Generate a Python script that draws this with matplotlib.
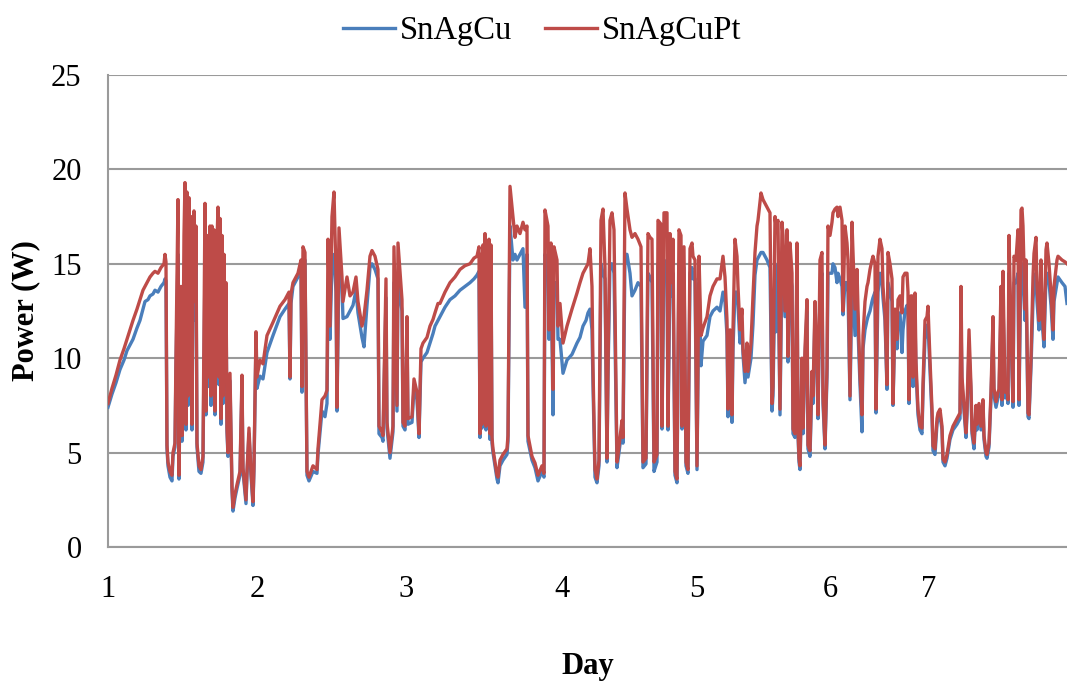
import matplotlib
matplotlib.use("Agg")
import matplotlib.pyplot as plt
import numpy as np

# Readings grouped by stretch of the logging run:
# (measurement index, SnAgCuPt power W, SnAgCu power W)
day1_morning = [
    (0, 7.6, 7.4), (4, 8.4, 8.1), (8, 9.1, 8.7), (12, 9.9, 9.4), (16, 10.5, 9.9),
    (19, 11.0, 10.4), (22, 11.5, 10.7), (25, 12.0, 11.0), (29, 12.6, 11.6),
    (32, 13.1, 12.0), (35, 13.6, 12.6), (37, 13.8, 13.0), (40, 14.1, 13.1),
    (42, 14.3, 13.3), (45, 14.5, 13.4), (47, 14.6, 13.6), (50, 14.5, 13.5),
    (53, 14.8, 13.8), (56, 15.0, 14.0), (57, 15.5, 14.2), (58, 15.1, 14.1),
]

day1_afternoon = [
    (59, 5.4, 5.2), (60, 4.5, 4.3), (62, 4.0, 3.7), (64, 3.8, 3.5), (65, 5.0, 4.8),
    (67, 5.5, 5.3), (68, 10.1, 9.5), (70, 18.4, 15.5), (71, 3.8, 3.6),
    (73, 13.8, 12.5), (74, 5.9, 5.6), (75, 9.4, 9.0), (76, 16.5, 14.0),
    (77, 19.3, 16.0), (78, 6.5, 6.2), (79, 18.8, 15.0), (80, 8.0, 7.5),
    (81, 18.5, 15.4), (82, 9.0, 8.5), (83, 17.5, 15.4), (84, 6.5, 6.2),
    (85, 16.0, 14.5), (86, 17.8, 14.0), (87, 13.0, 12.0), (88, 17.0, 15.0),
    (89, 5.5, 5.3), (91, 4.3, 4.0), (93, 4.1, 3.9), (95, 4.8, 4.5),
    (97, 18.2, 15.0), (98, 7.2, 7.0), (100, 16.5, 15.0), (101, 9.0, 8.5),
    (102, 17.0, 11.7), (103, 8.0, 7.5), (104, 17.0, 15.0), (105, 10.0, 9.3),
    (106, 16.8, 14.0), (107, 7.2, 7.0), (109, 16.1, 14.5), (110, 18.0, 15.5),
    (111, 9.0, 8.6), (112, 17.4, 15.0), (113, 6.8, 6.5), (114, 16.5, 15.0),
    (115, 8.0, 7.6), (116, 15.5, 14.0), (117, 9.8, 9.4), (118, 14.0, 13.0),
    (119, 6.3, 6.1), (120, 5.0, 4.8), (122, 9.2, 8.8), (124, 3.2, 3.0),
    (125, 2.1, 1.9), (127, 2.8, 2.6), (129, 3.3, 3.1), (132, 4.0, 3.8),
    (134, 9.1, 8.6), (135, 4.2, 4.0), (138, 2.5, 2.3), (139, 4.0, 3.8),
    (141, 6.3, 6.0), (143, 4.0, 3.8), (145, 2.4, 2.2), (146, 4.3, 4.1),
    (148, 11.4, 11.0), (149, 9.0, 8.4),
]

day2 = [
    (152, 9.9, 9.05), (155, 9.7, 8.9), (159, 11.2, 10.3), (165, 11.9, 11.2),
    (172, 12.75, 12.2), (177, 13.1, 12.6), (181, 13.5, 12.9), (182, 9.0, 8.9),
    (183, 13.4, 12.9), (185, 14.0, 13.8), (190, 14.5, 14.3), (193, 15.2, 14.9),
    (194, 8.5, 8.2), (195, 15.9, 15.0), (197, 15.6, 15.2), (199, 4.0, 3.8),
    (201, 3.7, 3.5), (205, 4.3, 4.0), (209, 4.1, 3.9), (210, 5.2, 4.9),
    (214, 7.8, 7.2), (217, 8.0, 6.9), (219, 8.3, 7.6), (220, 16.3, 13.0),
    (222, 11.7, 11.0), (224, 17.5, 15.0), (226, 18.8, 15.5), (228, 14.5, 13.5),
    (229, 7.4, 7.2), (231, 16.9, 15.0), (234, 14.3, 13.8), (235, 13.0, 12.1),
    (239, 14.3, 12.2), (242, 13.3, 12.5), (245, 13.5, 12.8), (248, 14.3, 13.6),
    (250, 13.0, 12.4), (254, 11.7, 11.1), (256, 12.2, 10.6), (259, 13.6, 12.8),
    (262, 15.4, 14.8), (264, 15.7, 15.0), (267, 15.4, 14.7), (270, 14.7, 14.2),
    (271, 6.4, 6.0), (274, 6.1, 5.8), (275, 5.9, 5.6), (278, 14.2, 13.2),
    (279, 6.6, 6.3), (282, 5.0, 4.7), (285, 6.4, 6.1), (286, 15.9, 14.0),
    (289, 7.5, 7.2), (290, 16.1, 14.0), (294, 13.1, 12.5), (295, 6.6, 6.4),
]

day3 = [
    (297, 6.4, 6.2), (299, 12.2, 11.4), (300, 6.8, 6.5), (304, 6.9, 6.6),
    (306, 8.9, 8.4), (309, 8.2, 7.8), (311, 6.0, 5.8), (313, 10.5, 9.8),
    (315, 10.8, 10.0), (319, 11.1, 10.3), (322, 11.7, 10.8), (325, 12.05, 11.3),
    (327, 12.4, 11.7), (330, 12.9, 12.0), (332, 12.9, 12.2), (337, 13.5, 12.7),
    (342, 14.0, 13.1), (347, 14.3, 13.3), (352, 14.7, 13.6), (357, 14.9, 13.8),
    (362, 15.0, 14.0), (366, 15.3, 14.2), (369, 15.4, 14.4), (371, 15.9, 14.6),
    (372, 6.0, 5.8), (373, 15.5, 10.0), (374, 6.5, 6.3), (375, 16.0, 14.5),
    (376, 7.0, 6.5), (377, 16.6, 15.0), (378, 6.4, 6.2), (379, 16.0, 15.0),
    (380, 7.5, 7.0), (381, 16.3, 15.2), (382, 6.0, 5.7), (383, 16.0, 15.0),
    (384, 5.8, 5.5), (385, 5.2, 5.0), (389, 3.8, 3.6), (390, 3.7, 3.4),
    (392, 4.6, 4.3), (395, 4.9, 4.6), (399, 5.2, 4.9), (400, 5.9, 5.6),
    (402, 19.1, 17.0), (405, 17.5, 15.2), (407, 16.4, 15.5), (409, 17.0, 15.2),
    (412, 16.6, 15.5), (415, 17.2, 15.8), (417, 16.8, 12.7), (419, 17.0, 15.5),
    (420, 5.9, 5.6), (424, 4.8, 4.6), (427, 4.45, 4.2), (430, 3.8, 3.5),
    (434, 4.3, 4.0), (436, 3.9, 3.7), (437, 17.85, 15.5), (440, 17.0, 15.0),
    (441, 11.5, 11.0), (443, 16.1, 15.0), (445, 8.35, 7.0), (446, 15.9, 14.0),
    (449, 15.2, 14.0), (450, 11.7, 11.0), (452, 12.9, 11.0),
]

day4 = [
    (455, 10.8, 9.2), (459, 11.7, 9.9), (464, 12.6, 10.2), (469, 13.45, 10.8),
    (472, 14.0, 11.1), (475, 14.5, 11.7), (478, 14.8, 12.0), (480, 15.0, 12.4),
    (482, 15.8, 12.6), (484, 13.8, 11.5), (485, 9.5, 8.6), (487, 4.1, 3.7),
    (489, 3.6, 3.4), (491, 4.6, 4.3), (493, 17.3, 15.0), (495, 17.9, 14.5),
    (497, 14.8, 14.2), (499, 4.7, 4.5), (500, 9.4, 9.0), (502, 17.3, 15.0),
    (504, 17.7, 15.0), (506, 16.8, 14.5), (509, 4.5, 4.2), (510, 4.9, 4.6),
    (514, 6.7, 6.25), (515, 5.8, 5.5), (517, 18.75, 15.5), (519, 17.9, 15.5),
    (522, 16.8, 14.5), (524, 16.4, 13.3), (527, 16.6, 13.6), (530, 16.3, 14.0),
    (533, 15.9, 13.8), (535, 4.5, 4.2), (538, 4.7, 4.4), (540, 16.6, 14.5),
    (542, 16.4, 14.3), (544, 16.3, 14.0), (546, 4.5, 4.0), (549, 4.9, 4.5),
    (550, 17.3, 15.0), (553, 17.1, 15.0), (554, 6.4, 6.25), (556, 17.7, 15.0),
    (559, 17.7, 15.2), (560, 6.4, 6.2), (562, 16.6, 14.5), (564, 14.0, 13.3),
    (565, 16.3, 14.5), (567, 4.0, 3.8), (569, 3.6, 3.4), (571, 16.8, 15.0),
    (573, 16.5, 14.8), (574, 6.4, 6.25), (576, 15.9, 14.8), (578, 4.5, 4.3),
    (580, 4.1, 3.9), (582, 15.8, 14.5), (584, 16.1, 14.8), (585, 15.4, 14.2),
    (587, 15.2, 14.2),
]

day5 = [
    (589, 4.3, 4.1), (591, 15.4, 14.0), (593, 11.2, 9.6), (595, 11.6, 10.9),
    (599, 12.2, 11.2), (602, 13.3, 12.2), (605, 13.8, 12.5), (609, 14.2, 12.7),
    (612, 14.2, 12.5), (615, 15.4, 13.5), (617, 14.3, 13.0), (619, 12.0, 11.2),
    (620, 7.3, 6.9), (622, 11.5, 10.5), (624, 7.0, 6.6), (625, 11.5, 10.5),
    (627, 16.3, 13.5), (629, 15.4, 13.5), (630, 13.8, 12.8), (632, 11.5, 10.8),
    (634, 12.6, 11.6), (635, 10.5, 10.2), (637, 9.3, 8.7), (639, 10.8, 9.9),
    (640, 9.3, 9.0), (643, 10.8, 10.0), (645, 13.3, 11.8), (647, 15.6, 14.4),
    (649, 17.0, 15.2), (650, 17.3, 15.3), (653, 18.75, 15.6), (655, 18.4, 15.6),
    (659, 18.0, 15.2), (662, 17.7, 14.8), (664, 7.6, 7.2), (665, 8.5, 8.0),
    (667, 17.5, 14.5), (668, 17.0, 11.4), (670, 17.3, 15.0), (672, 7.3, 7.0),
    (674, 17.2, 15.0), (675, 16.5, 14.5), (677, 12.5, 12.2), (679, 16.8, 14.8),
    (680, 10.1, 9.8), (682, 16.1, 14.5), (684, 14.5, 13.8), (685, 6.25, 6.0),
    (687, 6.0, 5.8), (689, 16.1, 14.5), (690, 6.25, 6.0), (691, 4.7, 4.5),
    (692, 4.3, 4.1), (694, 10.0, 9.5), (695, 6.3, 6.0), (697, 10.5, 10.0),
    (699, 13.1, 12.5), (700, 5.4, 5.2), (702, 5.1, 4.8), (704, 9.3, 8.8),
    (705, 8.0, 7.6), (707, 13.0, 12.4), (709, 9.8, 9.3), (710, 7.0, 6.8),
    (712, 15.2, 14.0), (714, 15.6, 14.5), (715, 8.0, 7.6), (717, 5.4, 5.2),
    (719, 9.5, 9.0), (720, 17.0, 14.5),
]

day6 = [
    (722, 16.5, 14.5), (724, 17.2, 14.5), (725, 17.7, 15.0), (727, 17.9, 14.8),
    (729, 18.0, 14.0), (730, 17.5, 14.5), (732, 18.0, 14.2), (734, 17.3, 13.8),
    (735, 12.5, 12.3), (737, 17.0, 14.0), (739, 16.1, 14.0), (740, 15.2, 13.5),
    (742, 8.0, 7.8), (744, 17.2, 14.0), (745, 15.6, 13.5), (747, 12.6, 11.2),
    (749, 14.7, 13.0), (750, 12.6, 11.5), (752, 9.1, 8.6), (754, 7.0, 6.1),
    (755, 11.2, 10.5), (757, 13.0, 11.5), (759, 13.8, 12.0), (760, 14.0, 12.2),
    (762, 14.7, 12.5), (764, 15.2, 13.0), (765, 15.4, 13.2), (767, 15.0, 13.5),
    (768, 7.3, 7.1), (770, 15.4, 13.5), (772, 16.3, 14.5), (774, 15.8, 14.0),
    (775, 13.8, 13.2), (777, 12.4, 12.0), (779, 8.6, 8.35), (780, 15.6, 14.0),
    (782, 15.0, 13.5), (784, 14.2, 13.0), (785, 7.6, 7.5), (787, 12.6, 12.0),
    (789, 11.0, 10.5), (790, 13.1, 12.3), (792, 13.3, 12.4), (794, 12.4, 10.3),
    (795, 14.3, 11.5), (797, 14.5, 12.5), (799, 14.5, 12.8), (800, 13.5, 12.6),
    (801, 7.8, 7.6), (803, 13.3, 12.5), (804, 13.3, 12.0), (805, 9.0, 8.5),
    (807, 13.45, 12.0), (808, 9.8, 9.3), (810, 7.3, 7.0), (812, 6.4, 6.2),
    (814, 6.3, 6.0), (815, 8.6, 8.2), (817, 12.0, 11.0), (819, 12.2, 11.5),
    (820, 12.75, 11.8),
]

day7 = [
    (822, 9.9, 9.4), (824, 7.3, 6.9), (825, 5.35, 5.1), (827, 5.2, 4.9),
    (829, 6.8, 6.5), (830, 7.1, 6.8), (832, 7.3, 7.0), (834, 6.4, 6.2),
    (835, 4.65, 4.5), (837, 4.5, 4.3), (839, 4.9, 4.7), (842, 5.9, 5.7),
    (845, 6.4, 6.2), (849, 6.8, 6.5), (852, 7.1, 6.8), (853, 13.8, 12.0),
    (854, 9.0, 8.6), (856, 7.5, 7.2), (858, 6.05, 5.8), (859, 7.3, 7.0),
    (861, 11.5, 10.5), (863, 8.5, 8.2), (864, 6.2, 6.0), (866, 5.5, 5.2),
    (868, 7.5, 7.2), (869, 6.5, 6.2), (871, 7.6, 7.3), (873, 6.4, 6.2),
    (875, 7.8, 7.5), (876, 5.9, 5.7), (878, 5.0, 4.8), (879, 4.9, 4.7),
    (881, 5.5, 5.3), (883, 8.2, 7.9), (885, 12.2, 11.5), (886, 8.4, 8.0),
    (888, 7.7, 7.4), (890, 8.2, 7.9), (891, 8.35, 8.0), (893, 13.8, 12.5),
    (894, 7.8, 7.5), (895, 14.6, 13.0), (897, 8.2, 7.9), (899, 8.35, 8.0),
    (900, 7.8, 7.6), (901, 16.5, 14.5), (903, 11.7, 11.2), (905, 7.7, 7.4),
    (906, 15.4, 14.0), (908, 15.2, 14.0), (910, 16.8, 14.5), (911, 7.8, 7.5),
    (913, 17.85, 15.0), (914, 17.95, 15.0), (915, 17.0, 14.5), (917, 12.6, 12.0),
    (918, 15.2, 14.0), (920, 7.1, 6.9), (921, 7.0, 6.8), (923, 10.0, 9.5),
    (925, 14.3, 13.0), (926, 15.55, 14.0), (928, 16.4, 14.5), (929, 13.8, 13.0),
    (931, 12.0, 11.5), (933, 15.2, 14.0), (934, 12.6, 12.0), (936, 11.0, 10.6),
    (938, 15.75, 14.3), (939, 16.1, 14.5), (941, 15.0, 14.0), (943, 13.45, 12.8),
    (945, 11.5, 11.0), (946, 13.8, 13.0), (949, 15.2, 14.0), (950, 15.4, 14.3),
    (954, 15.2, 14.0), (957, 15.1, 13.8), (959, 15.0, 12.9),
]

day_start = [0, 149, 298, 454, 589, 722, 821]
day_labels = ["1", "2", "3", "4", "5", "6", "7"]

series_names = ["SnAgCu", "SnAgCuPt"]
series_colors = ["#4A7EBB", "#BE4B48"]

records = np.array(day1_morning + day1_afternoon + day2 + day3 + day4
                   + day5 + day6 + day7, dtype=float)
index, pt_power, base_power = records[:, 0], records[:, 1], records[:, 2]

plt.rcParams["font.family"] = ["Liberation Serif", "DejaVu Serif"]

fig = plt.figure(figsize=(10.67, 6.91), dpi=100)
ax = fig.add_axes([0.1012, 0.2084, 0.8988, 0.6831])

ax.plot(index, base_power, color=series_colors[0], lw=2.4,
        label=series_names[0], zorder=3)
ax.plot(index, pt_power, color=series_colors[1], lw=2.4,
        label=series_names[1], zorder=4)

ax.set_xlim(0, 959)
ax.set_ylim(0, 25)
ax.set_yticks([0, 5, 10, 15, 20, 25])
ax.set_xticks(day_start)
ax.set_xticklabels(day_labels)
ax.tick_params(axis="both", length=0, labelsize=22)
ax.tick_params(axis="y", pad=19)
ax.tick_params(axis="x", pad=20)

ax.grid(axis="y", color="#9a9a9a", lw=1.5)
ax.set_axisbelow(True)
for side in ["top", "right"]:
    ax.spines[side].set_visible(False)
for side in ["left", "bottom"]:
    ax.spines[side].set_color("#9a9a9a")
    ax.spines[side].set_linewidth(1.5)

ax.set_ylabel("Power (W)", fontsize=22, fontweight="bold")
ax.yaxis.set_label_coords(-0.071, 0.5)
ax.set_xlabel("Day", fontsize=22, fontweight="bold")
ax.xaxis.set_label_coords(0.5, -0.222)

fig.legend(loc="upper center", bbox_to_anchor=(0.508, 1.02), ncol=2,
           frameon=False, fontsize=23.5, handlelength=1.6, handletextpad=0.15,
           columnspacing=1.0)

fig.savefig("out.png", dpi=100)
